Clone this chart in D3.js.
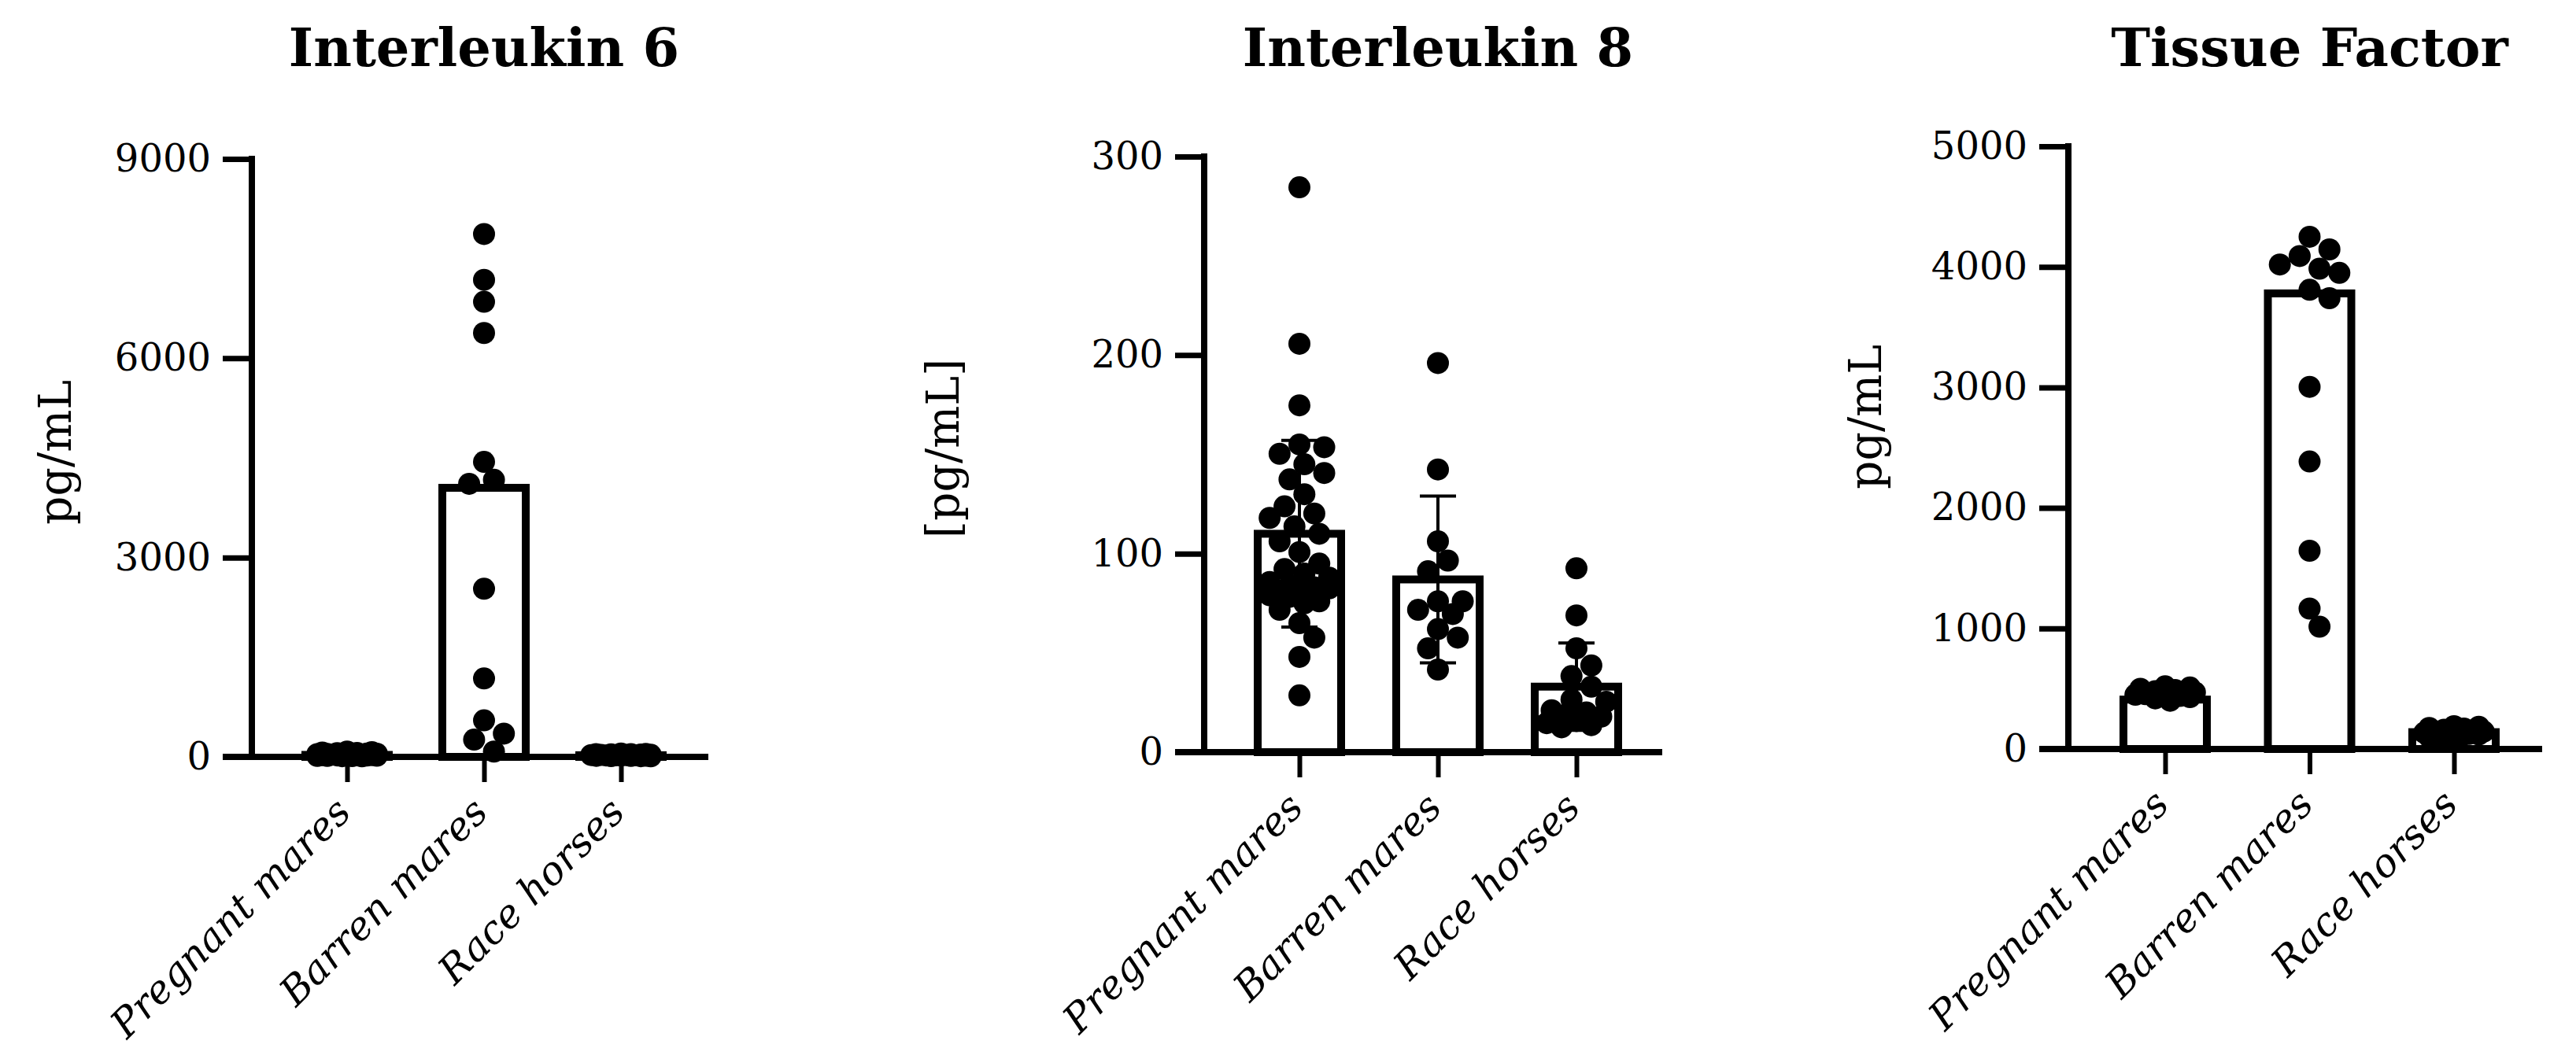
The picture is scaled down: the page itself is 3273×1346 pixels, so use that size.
<!DOCTYPE html>
<html><head><meta charset="utf-8">
<script src="https://cdn.jsdelivr.net/npm/d3@7"></script>
<style>
html,body{margin:0;padding:0;background:#fff;}
svg{display:block;}
</style></head>
<body>
<svg id="chart" width="3273" height="1346"></svg>
<script>
// ---------- data ----------
const categories = ["Pregnant mares", "Barren mares", "Race horses"];
const titles = ["Interleukin 6", "Interleukin 8", "Tissue Factor"];
const yLabels = ["pg/mL", "[pg/mL]", "pg/mL"];

const il6Ticks = [0, 3000, 6000, 9000];
const il8Ticks = [0, 100, 200, 300];
const tfTicks = [0, 1000, 2000, 3000, 4000, 5000];

const il6Bars = [30, 4050, 25];
const il6Pregnant = [12, 20, 35, 8, 45, 60, 25, 30, 15, 50, 70, 40, 18, 22, 55, 33, 28, 10, 65, 38, 42, 48, 14, 26, 80];
const il6Barren = [7870, 7180, 6850, 6380, 4440, 4170, 4110, 2530, 1180, 550, 350, 260, 80];
const il6Race = [10, 18, 25, 32, 40, 22, 15, 28, 35, 45, 12, 20, 30, 38, 50, 8, 24, 42, 16, 27];

const il8Bars = [110, 87, 33];
const il8Sd = [47, 42, 22];
const il8Pregnant = [284.5, 205.7, 174.7, 153.6, 150.3, 155, 137.4, 140.6, 129.9, 123.8, 120.2, 118, 113.7, 106.2, 100.8, 110, 92.2, 95, 82.5, 87.9, 85.7, 80.3, 76.0, 78.2, 80.3, 83, 71.7, 75, 79, 84, 57.7, 48.0, 28.6, 65, 90, 145];
const il8Barren = [196.0, 142.4, 106.2, 96.5, 91.1, 71.7, 76.0, 76.0, 69.6, 62.0, 57.7, 52.3, 41.6];
const il8Race = [92.6, 68.9, 52.3, 43.7, 38.3, 33.0, 26.5, 25.4, 20.0, 21.1, 17.9, 15.7, 14.6, 13.6, 12.5, 19.0];

const tfBars = [410, 3780, 140];
const tfPregnant = [480, 440, 520, 460, 400, 500, 450, 470, 420, 490, 430, 510, 455, 475];
const tfBarren = [4250, 4145, 4090, 4020, 3985, 3950, 3810, 3740, 3005, 2385, 1645, 1165, 1015];
const tfRace = [190, 175, 160, 150, 140, 130, 120, 110, 100, 90, 170, 185, 145, 125, 135, 80];

// ---------- layout ----------
const panels = [
  {title: titles[0], ylab: yLabels[0], ticks: il6Ticks, bars: il6Bars, sd: null,
   groups: [il6Pregnant, il6Barren, il6Race],
   axisX: 320, right: 900, top: 202, bottom: 962, first: 441, last: 789,
   ylabX: 90, ylabY: 575},
  {title: titles[1], ylab: yLabels[1], ticks: il8Ticks, bars: il8Bars, sd: il8Sd,
   groups: [il8Pregnant, il8Barren, il8Race],
   axisX: 1530, right: 2112, top: 199, bottom: 956, first: 1651, last: 2003,
   ylabX: 1218, ylabY: 570},
  {title: titles[2], ylab: yLabels[2], ticks: tfTicks, bars: tfBars, sd: null,
   groups: [tfPregnant, tfBarren, tfRace],
   axisX: 2628, right: 3230, top: 186, bottom: 952, first: 2751, last: 3118,
   ylabX: 2390, ylabY: 530}
];

const FONT = "'DejaVu Serif', 'Liberation Serif', serif";
const R = 14, BAR_W = 106, AXIS_W = 8;

function swarm(vals, y, cx, r, maxHalf) {
  const pts = vals.map(v => ({v, y: y(v)})).sort((a, b) => b.v - a.v);
  const placed = [];
  const step = r * 0.45, minD = 2 * r * 0.92;
  for (const p of pts) {
    let found = null, bestCand = 0, bestScore = -Infinity;
    outer:
    for (let k = 0; k * step <= maxHalf; k++) {
      for (const s of (k === 0 ? [0] : [1, -1])) {
        const dx = s * k * step;
        let md = Infinity;
        for (const q of placed) {
          const d = Math.hypot(dx - q.dx, p.y - q.y);
          if (d < md) md = d;
        }
        if (md >= minD) { found = dx; break outer; }
        if (md > bestScore) { bestScore = md; bestCand = dx; }
      }
    }
    p.dx = found !== null ? found : bestCand;
    p.x = cx + p.dx;
    placed.push(p);
  }
  return pts;
}

const svg = d3.select("#chart");

panels.forEach(P => {
  const g = svg.append("g");
  const y = d3.scaleLinear().domain([0, d3.max(P.ticks)]).range([P.bottom, P.top]);
  const x = d3.scalePoint().domain(categories).range([P.first, P.last]);

  // title
  g.append("text")
    .attr("x", x(categories[1])).attr("y", 84)
    .attr("text-anchor", "middle")
    .style("font-family", FONT).style("font-weight", "bold").style("font-size", "67px")
    .text(P.title);

  // y label
  g.append("text")
    .attr("transform", `translate(${P.ylabX},${P.ylabY}) rotate(-90)`)
    .attr("text-anchor", "middle")
    .style("font-family", FONT).style("font-size", "57px")
    .text(P.ylab);

  // bars
  g.selectAll("rect.bar").data(P.bars).join("rect")
    .attr("class", "bar")
    .attr("x", (d, i) => x(categories[i]) - BAR_W / 2)
    .attr("width", BAR_W)
    .attr("y", d => y(d))
    .attr("height", d => P.bottom - y(d))
    .attr("fill", "#fff").attr("stroke", "#000").attr("stroke-width", 10);

  // dots
  P.groups.forEach((vals, i) => {
    const pts = swarm(vals, y, x(categories[i]), R, 44);
    g.append("g").selectAll("circle").data(pts).join("circle")
      .attr("cx", d => d.x).attr("cy", d => d.y).attr("r", R).attr("fill", "#000");
  });

  // error bars (mean ± SD)
  if (P.sd) {
    const eb = g.append("g").attr("stroke", "#000").attr("stroke-width", 4);
    P.bars.forEach((m, i) => {
      const cx = x(categories[i]);
      eb.append("line").attr("x1", cx).attr("x2", cx).attr("y1", y(m - P.sd[i])).attr("y2", y(m + P.sd[i]));
      eb.append("line").attr("x1", cx - 23).attr("x2", cx + 23).attr("y1", y(m + P.sd[i])).attr("y2", y(m + P.sd[i]));
      eb.append("line").attr("x1", cx - 23).attr("x2", cx + 23).attr("y1", y(m - P.sd[i])).attr("y2", y(m - P.sd[i]));
    });
  }

  // y axis
  const ya = g.append("g").attr("transform", `translate(${P.axisX},0)`)
    .call(d3.axisLeft(y).tickValues(P.ticks).tickSize(37).tickPadding(15).tickSizeOuter(0).tickFormat(d3.format("d")));
  ya.select(".domain").attr("stroke-width", AXIS_W).attr("d", `M0,${P.top - 4}V${P.bottom}`);
  ya.selectAll(".tick line").attr("stroke-width", 7);
  ya.selectAll(".tick text").style("font-family", FONT).style("font-size", "48px").attr("fill", "#000");

  // x axis
  const xa = g.append("g").attr("transform", `translate(0,${P.bottom})`)
    .call(d3.axisBottom(x).tickSize(32).tickSizeOuter(0));
  xa.select(".domain").attr("stroke-width", AXIS_W).attr("d", `M${P.axisX - 37},0H${P.right}`);
  xa.selectAll(".tick line").attr("stroke-width", 6);
  xa.selectAll(".tick text")
    .attr("x", 0).attr("y", 0).attr("dy", 0)
    .attr("transform", "translate(7,73) rotate(-45)")
    .attr("text-anchor", "end")
    .style("font-family", FONT).style("font-style", "italic").style("font-size", "50px").attr("fill", "#000");
});
</script>
</body></html>
